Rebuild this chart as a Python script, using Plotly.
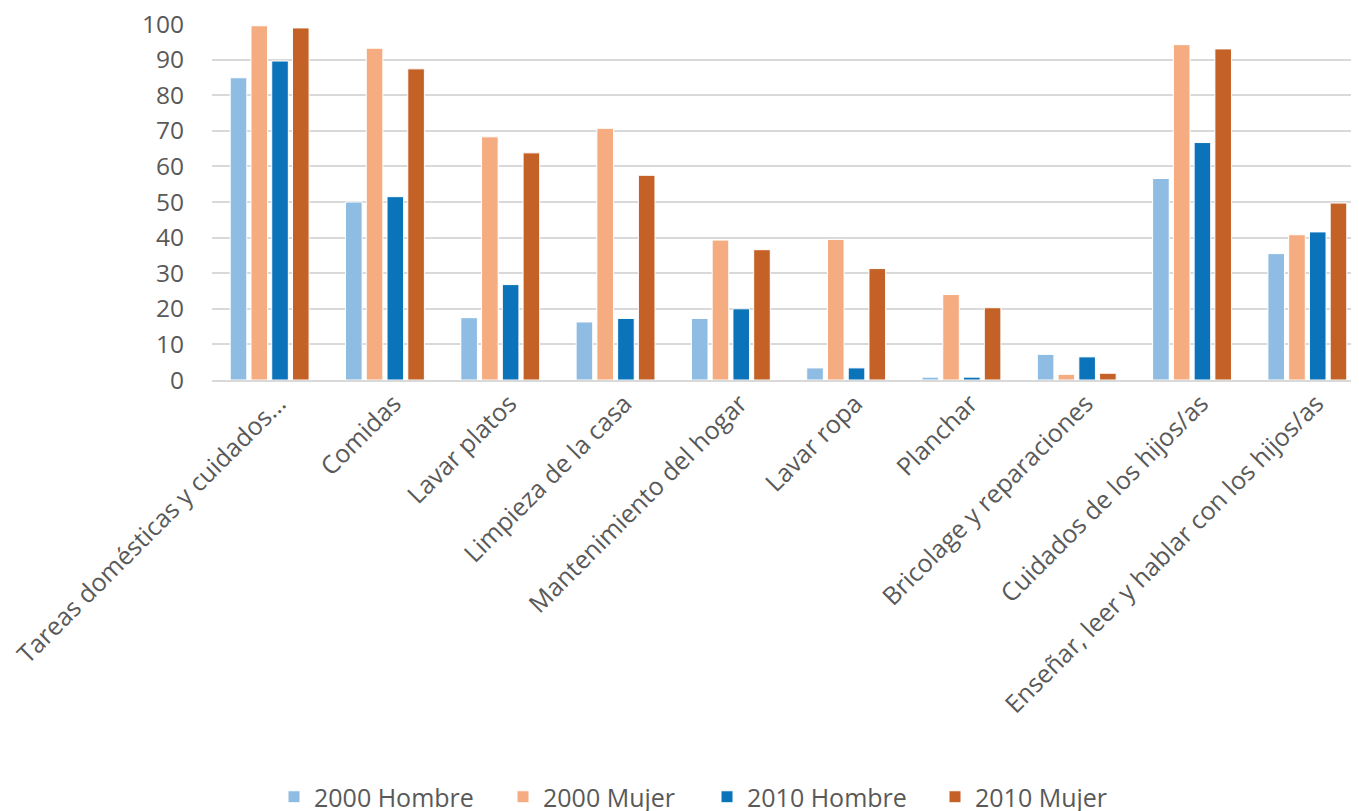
import plotly.graph_objects as go

categories = [
    "Tareas domésticas y cuidados...",
    "Comidas",
    "Lavar platos",
    "Limpieza de la casa",
    "Mantenimiento del hogar",
    "Lavar ropa",
    "Planchar",
    "Bricolage y reparaciones",
    "Cuidados de los hijos/as",
    "Enseñar, leer y hablar con los hijos/as",
]
hombre_2000 = [84.9, 50.0, 17.5, 16.3, 17.3, 3.4, 0.8, 7.2, 56.6, 35.5]
mujer_2000 = [99.5, 93.2, 68.3, 70.7, 39.3, 39.5, 24.0, 1.6, 94.2, 40.8]
hombre_2010 = [89.6, 51.5, 26.8, 17.3, 20.0, 3.4, 0.8, 6.5, 66.7, 41.6]
mujer_2010 = [98.9, 87.4, 63.8, 57.5, 36.6, 31.3, 20.3, 1.9, 93.0, 49.7]

series_names = ["2000 Hombre", "2000 Mujer", "2010 Hombre", "2010 Mujer"]
series_values = [hombre_2000, mujer_2000, hombre_2010, mujer_2010]
colors = ["#8FBCE2", "#F5AC80", "#0B73BA", "#C46127"]
y_ticks = [0, 10, 20, 30, 40, 50, 60, 70, 80, 90, 100]

# legend entry positions (square centres, px from left of figure)
legend_ids = ["legend", "legend2", "legend3", "legend4"]
legend_px = [286, 515, 719, 947]

fig = go.Figure()
for name, vals, col, lid in zip(series_names, series_values, colors, legend_ids):
    fig.add_trace(go.Bar(
        x=categories, y=vals, name=name, legend=lid,
        marker=dict(color=col, line=dict(color="white", width=1)),
    ))

W, H = 1359, 811
legend_common = dict(
    orientation="h", xref="container", yref="container",
    xanchor="left", y=1 - 789 / H, yanchor="middle",
    font=dict(family="Open Sans", size=25, color="#595959"),
    bgcolor="rgba(0,0,0,0)",
)
layout_legends = {}
for lid, px in zip(legend_ids, legend_px):
    layout_legends[lid] = dict(legend_common, x=(px - 20) / W)

fig.update_layout(
    width=W, height=H,
    paper_bgcolor="white", plot_bgcolor="white",
    margin=dict(l=204, r=2, t=16, b=439),
    barmode="group", bargap=0.28, bargroupgap=0.2,
    font=dict(family="Open Sans, sans-serif", color="#595959"),
    showlegend=True,
    **layout_legends,
)
fig.update_xaxes(
    tickangle=-45, tickfont=dict(family="Open Sans", size=25, color="#595959"),
    showline=True, linecolor="#D9D9D9", linewidth=2, ticks="",
    showgrid=False, automargin=False,
    ticklabelshift=9, ticklabelstandoff=-3,
)
fig.update_yaxes(
    range=[0, 100], tickvals=y_ticks,
    tickfont=dict(family="Open Sans", size=24.5, color="#595959"),
    showgrid=True, gridcolor="#D9D9D9", gridwidth=2,
    zeroline=False, showline=False, ticks="", ticklabelstandoff=27,
    ticklabeloverflow="allow", automargin=False,
)

fig.write_html("out.html")
